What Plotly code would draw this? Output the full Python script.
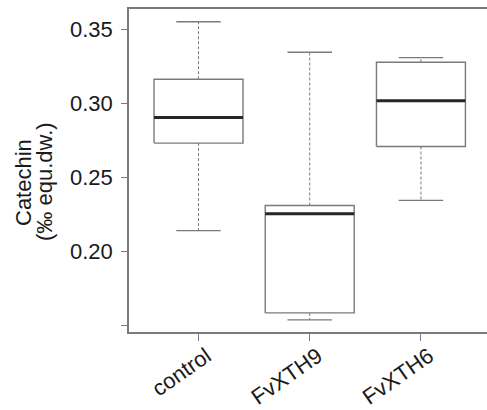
import plotly.graph_objects as go

categories = ["control", "FvXTH9", "FvXTH6"]
lower_whisker = [0.2139, 0.1537, 0.2343]
q1 = [0.2730, 0.1584, 0.2707]
median = [0.2902, 0.2253, 0.3015]
q3 = [0.3161, 0.2309, 0.3276]
upper_whisker = [0.3549, 0.3343, 0.3307]
ytick_vals = [0.15, 0.20, 0.25, 0.30, 0.35]
ytick_text = ["", "0.20", "0.25", "0.30", "0.35"]

W = 487
H = 410
ML, MR, MT, MB = 129, 0, 9, 78
FONT = "Liberation Sans, Arial, Helvetica, sans-serif"
FS = 22
GRAY = "#7a7a7a"
BOXW = 0.4
CAPW = 0.2

fig = go.Figure()
for i, name in enumerate(categories):
    # whiskers (dashed)
    fig.add_trace(go.Scatter(
        x=[i, i, None, i, i],
        y=[q3[i], upper_whisker[i], None, q1[i], lower_whisker[i]],
        mode="lines", line=dict(color=GRAY, width=1, dash="3px,2px"),
        hoverinfo="skip", showlegend=False))
    # caps
    fig.add_trace(go.Scatter(
        x=[i - CAPW, i + CAPW, None, i - CAPW, i + CAPW],
        y=[upper_whisker[i], upper_whisker[i], None, lower_whisker[i], lower_whisker[i]],
        mode="lines", line=dict(color=GRAY, width=1.3),
        hoverinfo="skip", showlegend=False))
    # box
    fig.add_trace(go.Scatter(
        x=[i - BOXW, i + BOXW, i + BOXW, i - BOXW, i - BOXW],
        y=[q1[i], q1[i], q3[i], q3[i], q1[i]],
        mode="lines", line=dict(color=GRAY, width=1.4),
        fill="toself", fillcolor="white",
        hoverinfo="skip", showlegend=False, name=name))
    # median
    fig.add_trace(go.Scatter(
        x=[i - BOXW, i + BOXW],
        y=[median[i], median[i]],
        mode="lines", line=dict(color="#262626", width=3),
        hoverinfo="skip", showlegend=False))

fig.update_layout(
    width=W, height=H,
    margin=dict(l=ML, r=MR, t=MT, b=MB, pad=0, autoexpand=False),
    paper_bgcolor="white", plot_bgcolor="white",
    font=dict(family=FONT, size=FS, color="#1a1a1a"),
    xaxis=dict(
        range=[-0.625, 2.594], automargin=False,
        tickmode="array", tickvals=list(range(len(categories))), ticktext=categories,
        tickangle=-35, ticklabelstandoff=-6, ticklabelshift=8,
        showline=True, linecolor=GRAY, linewidth=1.5, mirror=True,
        ticks="outside", ticklen=7, tickcolor=GRAY, tickwidth=1.2,
        showgrid=False, zeroline=False,
        tickfont=dict(family=FONT, size=FS, color="#1a1a1a"),
    ),
    yaxis=dict(
        range=[0.1455, 0.3635], automargin=False,
        tickmode="array", tickvals=ytick_vals, ticktext=ytick_text,
        showline=True, linecolor=GRAY, linewidth=1.5, mirror=False,
        ticks="outside", ticklen=6, tickcolor=GRAY, tickwidth=1.2,
        ticklabelstandoff=4,
        showgrid=False, zeroline=False,
        tickfont=dict(family=FONT, size=FS, color="#1a1a1a"),
    ),
)

plot_h = H - MT - MB
plot_w = W - ML - MR
ycen = (H - MB - 182) / plot_h
fig.add_annotation(text="Catechin", xref="paper", yref="paper",
                   x=(23 - ML) / plot_w, y=ycen, xanchor="center", yanchor="middle",
                   textangle=-90, showarrow=False,
                   font=dict(family=FONT, size=FS, color="#1a1a1a"))
fig.add_annotation(text="(‰ equ.dw.)", xref="paper", yref="paper",
                   x=(44 - ML) / plot_w, y=ycen, xanchor="center", yanchor="middle",
                   textangle=-90, showarrow=False,
                   font=dict(family=FONT, size=FS, color="#1a1a1a"))

fig.write_html(
    "out.html",
    config={"displayModeBar": False},
    post_script="document.body.style.margin='0';document.body.style.overflow='hidden';",
)
